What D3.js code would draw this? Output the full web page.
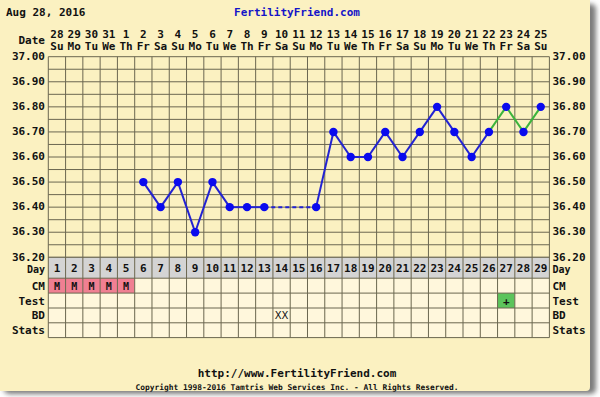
<!DOCTYPE html>
<html><head><meta charset="utf-8">
<script src="https://cdn.jsdelivr.net/npm/d3@7"></script>
<style>
html,body{margin:0;padding:0;background:#fff;}
svg{display:block;}
text{font-family:"DejaVu Sans Mono",monospace;font-weight:bold;fill:#111;}
</style></head>
<body>
<script>
// ---- data ----
const title = "Aug 28, 2016";
const site = "FertilityFriend.com";
const cycleDays = d3.range(1, 30);
const dateLabels = ["28","29","30","31","1","2","3","4","5","6","7","8","9","10","11","12","13","14","15","16","17","18","19","20","21","22","23","24","25"];
const weekdayLabels = ["Su","Mo","Tu","We","Th","Fr","Sa","Su","Mo","Tu","We","Th","Fr","Sa","Su","Mo","Tu","We","Th","Fr","Sa","Su","Mo","Tu","We","Th","Fr","Sa","Su"];
const temps = [null,null,null,null,null,36.50,36.40,36.50,36.30,36.50,36.40,36.40,36.40,null,null,36.40,36.70,36.60,36.60,36.70,36.60,36.70,36.80,36.70,36.60,36.70,36.80,36.70,36.80];
const greenFromDay = 26;
const yTicks = [37.00,36.90,36.80,36.70,36.60,36.50,36.40,36.30,36.20];
const rowLabels = ["Day","CM","Test","BD","Stats"];
const cmValues = ["M","M","M","M","M",null,null,null,null,null,null,null,null,null,null,null,null,null,null,null,null,null,null,null,null,null,null,null,null];
const testValues = cycleDays.map(d => d === 27 ? "+" : null);
const bdValues = cycleDays.map(d => d === 14 ? "XX" : null);
const footerUrl = "http://www.FertilityFriend.com";
const copyright = "Copyright 1998-2016 Tamtris Web Services Inc. - All Rights Reserved.";

// ---- layout ----
const W = 600, H = 397;
const svg = d3.select("body").append("svg").attr("width", W).attr("height", H);
const defs = svg.append("defs");
defs.append("filter").attr("id","sh").attr("x","-5%").attr("y","-5%").attr("width","115%").attr("height","115%")
  .append("feGaussianBlur").attr("stdDeviation", 2.5);

svg.append("rect").attr("x",4).attr("y",4).attr("width",592).attr("height",390).attr("rx",5)
  .attr("fill","#7c7c7c").attr("filter","url(#sh)");
svg.append("rect").attr("x",0).attr("y",0).attr("width",590).attr("height",391).attr("rx",4)
  .attr("fill","#fbf1c1");
svg.append("rect").attr("x",0).attr("y",0).attr("width",10).attr("height",391).attr("fill","#fbf1c1");
svg.append("rect").attr("x",0).attr("y",0).attr("width",590).attr("height",10).attr("fill","#fbf1c1");

const x = d3.scaleBand().domain(cycleDays).range([48.3, 549.4]).paddingInner(0).paddingOuter(0);
const cx = d => x(d) + x.bandwidth()/2;
const y = d3.scaleLinear().domain([36.2, 37.0]).range([257.3, 56.7]);

// header
svg.append("text").attr("x",6).attr("y",16).attr("font-size",11).text(title);
svg.append("text").attr("x",297).attr("y",16).attr("font-size",11).attr("text-anchor","middle")
  .style("fill","#1414c8").text(site);
svg.append("text").attr("x",45).attr("y",44).attr("font-size",11).attr("text-anchor","end").text("Date");
svg.selectAll("text.dnum").data(cycleDays).join("text").attr("class","dnum")
  .attr("x", d => cx(d)).attr("y", 38).attr("font-size",11).attr("text-anchor","middle")
  .text((d,i) => dateLabels[i]);
svg.selectAll("text.wday").data(cycleDays).join("text").attr("class","wday")
  .attr("x", d => cx(d)).attr("y", 50).attr("font-size",11).attr("text-anchor","middle")
  .text((d,i) => weekdayLabels[i]);

// plot grid
const g = svg.append("g");
g.append("rect").attr("x",x.range()[0]).attr("y",y(37)).attr("width",x.range()[1]-x.range()[0])
  .attr("height",y(36.2)-y(37)).attr("fill","#fbf1c1");
const hLines = d3.range(0,17).map(i => 36.2 + i*0.05);
g.selectAll("line.h").data(hLines).join("line").attr("class","h")
  .attr("x1",x.range()[0]).attr("x2",x.range()[1]).attr("y1",d=>y(d)).attr("y2",d=>y(d))
  .attr("stroke","#6b6750").attr("stroke-width",1);
const vEdges = cycleDays.map(d => x(d)).concat([x.range()[1]]);

// y axis labels
svg.selectAll("text.yl").data(yTicks).join("text").attr("class","yl")
  .attr("x",45).attr("y",d=>y(d)+3.2).attr("font-size",11).attr("text-anchor","end").text(d=>d.toFixed(2));
svg.selectAll("text.yr").data(yTicks).join("text").attr("class","yr")
  .attr("x",552.5).attr("y",d=>y(d)+3.2).attr("font-size",11).text(d=>d.toFixed(2));

// table
const rowTops = [257.3, 278.2, 293.1, 308.0, 322.8, 337.6];
const tbl = svg.append("g");
rowLabels.forEach((lab, r) => {
  const top = rowTops[r], bot = rowTops[r+1];
  tbl.selectAll(null).data(cycleDays).join("rect")
    .attr("x", d => x(d)).attr("y", top).attr("width", x.bandwidth()).attr("height", bot-top)
    .attr("fill", (d,i) => {
      if (r === 0) return "#d4d4d4";
      if (r === 1 && cmValues[i]) return "#f07f92";
      if (r === 2 && testValues[i]) return "#5cc45c";
      return "#fff7dc";
    });
  const ly = r === 0 ? 273 : (top+bot)/2+4;
  const fs = r === 0 ? 10 : 11;
  svg.append("text").attr("x",45).attr("y",ly).attr("font-size",fs).attr("text-anchor","end").text(lab);
  svg.append("text").attr("x",552.5).attr("y",ly).attr("font-size",fs).text(lab);
});
rowTops.forEach(t => tbl.append("line").attr("x1",x.range()[0]).attr("x2",x.range()[1])
  .attr("y1",t).attr("y2",t).attr("stroke","#6b6750"));
svg.selectAll("line.v").data(vEdges).join("line").attr("class","v")
  .attr("x1",d=>d).attr("x2",d=>d).attr("y1",y(37)).attr("y2",rowTops[5])
  .attr("stroke","#6b6750").attr("stroke-width",1);

tbl.selectAll("text.dayn").data(cycleDays).join("text").attr("class","dayn")
  .attr("x",d=>cx(d)).attr("y",(rowTops[0]+rowTops[1])/2+4).attr("font-size",11).attr("text-anchor","middle").text(d=>d);
tbl.selectAll("text.cm").data(cycleDays.filter((d,i)=>cmValues[i])).join("text").attr("class","cm")
  .attr("x",d=>cx(d)).attr("y",(rowTops[1]+rowTops[2])/2+4).attr("font-size",10).attr("text-anchor","middle").text(d=>cmValues[d-1]);
tbl.selectAll("text.ts").data(cycleDays.filter((d,i)=>testValues[i])).join("text").attr("class","ts")
  .attr("x",d=>cx(d)).attr("y",(rowTops[2]+rowTops[3])/2+4).attr("font-size",11).attr("text-anchor","middle").text(d=>testValues[d-1]);
tbl.selectAll("text.bd").data(cycleDays.filter((d,i)=>bdValues[i])).join("text").attr("class","bd")
  .attr("x",d=>cx(d)).attr("y",(rowTops[3]+rowTops[4])/2+4).attr("font-size",10).attr("text-anchor","middle")
  .style("font-weight","normal").style("font-family","DejaVu Sans").text(d=>bdValues[d-1]);

// temperature line
const pts = cycleDays.map((d,i) => ({d, t: temps[i]})).filter(p => p.t !== null);
const lg = svg.append("g");
for (let i = 1; i < pts.length; i++) {
  const a = pts[i-1], b = pts[i];
  const gap = b.d - a.d > 1;
  const green = a.d >= greenFromDay;
  lg.append("line").attr("x1",cx(a.d)).attr("y1",y(a.t)).attr("x2",cx(b.d)).attr("y2",y(b.t))
    .attr("stroke", green ? "#3cb43c" : "#2222d2").attr("stroke-width",2)
    .attr("stroke-dasharray", gap ? "4,3" : null);
}
lg.selectAll("circle").data(pts).join("circle").attr("cx",p=>cx(p.d)).attr("cy",p=>y(p.t)).attr("r",4.2)
  .attr("fill","#0a0aee");

// footer
svg.append("text").attr("x",297).attr("y",377).attr("font-size",11).attr("text-anchor","middle").text(footerUrl);
svg.append("text").attr("x",297).attr("y",389.5).attr("font-size",7.9).attr("text-anchor","middle").text(copyright);
</script>
</body></html>
